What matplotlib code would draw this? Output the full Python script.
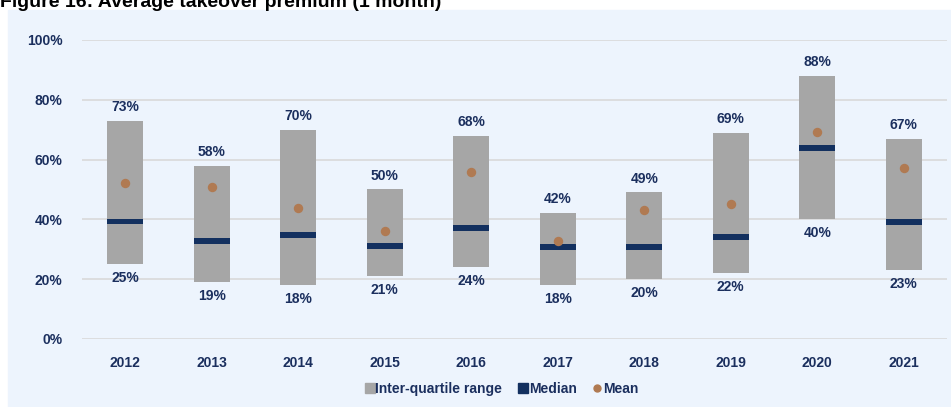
import matplotlib.pyplot as plt
from matplotlib.patches import Rectangle
from matplotlib.lines import Line2D
import numpy as np

plt.rcParams['font.family'] = ['Liberation Sans', 'DejaVu Sans']

years = ['2012', '2013', '2014', '2015', '2016', '2017', '2018', '2019', '2020', '2021']
q1 = [25, 19, 18, 21, 24, 18, 20, 22, 40, 23]
q3 = [73, 58, 70, 50, 68, 42, 49, 69, 88, 67]
median = [39.3, 32.8, 34.7, 31.1, 37.2, 30.8, 30.7, 34.1, 63.9, 39.1]
mean = [52.2, 50.8, 43.7, 36.0, 55.8, 32.8, 43.1, 45.3, 69.3, 57.2]

grey = '#A6A6A6'
navy = '#13305F'
brown = '#B07A52'
text_col = '#1B2F5E'
bg = '#EDF4FD'

fig = plt.figure(figsize=(9.51, 4.07), dpi=100)
fig.patches.append(Rectangle((8 / 951, 0), 1 - 8 / 951, 1 - 10 / 407,
                             transform=fig.transFigure, color=bg, zorder=-10))
# the reference shows this title clipped at the top edge
fig.text(0.0, 1 - 7 / 407, 'Figure 16: Average takeover premium (1 month)',
         fontsize=14, fontweight='bold', color='black', va='baseline', ha='left')

ax = fig.add_axes([82 / 951, 1 - 339 / 407, (947 - 82) / 951, 299 / 407])
ax.set_facecolor('none')

x = np.arange(len(years))
w = 0.415
low = np.array(q1)
high = np.array(q3)
ax.bar(x, high - low, bottom=low, width=w, color=grey, zorder=2)
ax.bar(x, 2.0, bottom=np.array(median) - 1.0, width=w, color=navy, zorder=3)
ax.scatter(x, mean, s=46, color=brown, zorder=4, linewidths=0)

for i in range(len(years)):
    ax.annotate(f'{q3[i]}%', (x[i], q3[i]), xytext=(0, 5), textcoords='offset points',
                ha='center', va='bottom', fontsize=10, fontweight='bold', color=text_col)
    ax.annotate(f'{q1[i]}%', (x[i], q1[i]), xytext=(0, -5), textcoords='offset points',
                ha='center', va='top', fontsize=10, fontweight='bold', color=text_col)

ax.set_xlim(-0.5, len(years) - 0.5)
ax.set_ylim(0, 100)
ax.set_yticks(range(0, 101, 20))
ax.set_yticklabels([f'{v}%' for v in range(0, 101, 20)])
ax.set_xticks(x)
ax.set_xticklabels(years)
ax.tick_params(length=0, labelsize=10, labelcolor=text_col, pad=12)
ax.tick_params(axis='y', pad=14)
for lab in ax.get_xticklabels() + ax.get_yticklabels():
    lab.set_fontweight('bold')
ax.yaxis.grid(True, color='#D9D9D9', linewidth=1.2, zorder=0)
ax.set_axisbelow(True)
for s in ax.spines.values():
    s.set_visible(False)

handles = [
    Line2D([], [], marker='s', linestyle='none', color=grey, markersize=7),
    Line2D([], [], marker='s', linestyle='none', color=navy, markersize=7),
    Line2D([], [], marker='o', linestyle='none', color=brown, markersize=5),
]
leg = fig.legend(handles, ['Inter-quartile range', 'Median', 'Mean'],
                 loc='center', bbox_to_anchor=(502 / 951, 1 - 389 / 407), ncol=3,
                 frameon=False, handlelength=0.6, handletextpad=0.1, columnspacing=1.2,
                 prop={'weight': 'bold', 'size': 10})
for t in leg.get_texts():
    t.set_color(text_col)

fig.savefig('out.png', dpi=100)
